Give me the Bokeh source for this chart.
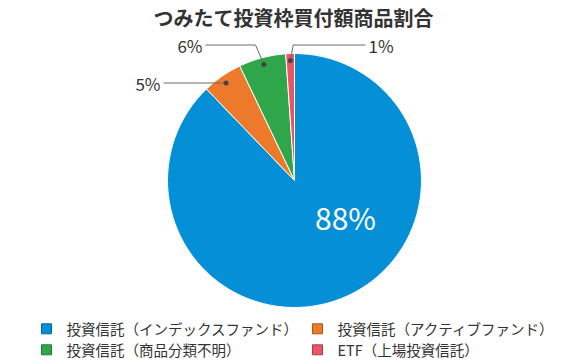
import math
from bokeh.plotting import figure
from bokeh.models import Range1d
from bokeh.core.properties import value
from bokeh.embed import file_html
from bokeh.resources import INLINE

# ---- data ----
title = "つみたて投資枠買付額商品割合"
categories = ["投資信託（インデックスファンド）", "投資信託（アクティブファンド）",
              "投資信託（商品分類不明）", "ETF（上場投資信託）"]
shares = [87.8, 5.1, 6.0, 1.1]
colors = ["#058fd6", "#ec7a2a", "#2fa64a", "#e9546b"]

# ---- layout (screen pixels of the 588x364 window) ----
W, H = 588, 364
FONT = "Noto Sans CJK JP"

def sx(x):
    return x

def sy(y):
    return H - y

cx, cy, R = 294, 180, 127

p = figure(width=W, height=H, output_backend="svg", toolbar_location=None,
           x_range=Range1d(0, W), y_range=Range1d(0, H), min_border=0)
p.axis.visible = False
p.grid.visible = False
p.outline_line_color = None
p.background_fill_color = "white"

# wedges (clockwise from 12 o'clock)
total = sum(shares)
starts, ends, mids = [], [], []
acc = 0.0
for v in shares:
    a0 = math.pi / 2 - 2 * math.pi * acc / total
    acc += v
    a1 = math.pi / 2 - 2 * math.pi * acc / total
    starts.append(a0)
    ends.append(a1)
    mids.append((a0 + a1) / 2)

p.wedge(x=[sx(cx)] * 4, y=[sy(cy)] * 4, radius=R, start_angle=starts, end_angle=ends,
        direction="clock", fill_color=colors, line_color="white", line_width=1)

labels = [f"{round(v / total * 100)}%" for v in shares]

# inside label for largest slice
p.text(x=[sx(345)], y=[sy(216)], text=[labels[0]], text_color="white",
       text_font=value(FONT), text_font_size="30px", text_align="center",
       text_baseline="middle")

# outside labels: (label y, elbow x or None, line end x, side)
outside = {
    1: dict(ly=82.5, elbow=None, end=163, side="left"),
    2: dict(ly=44.5, elbow=255, end=205, side="left"),
    3: dict(ly=44.5, elbow=292.7, end=365, side="right"),
}
r_dot = 120
for i, cfg in outside.items():
    dx = cx + r_dot * math.cos(mids[i])
    dy = cy - r_dot * math.sin(mids[i])
    if cfg["elbow"] is None:
        xs = [dx, cfg["end"]]
        ys = [cfg["ly"], cfg["ly"]]
        dy = cfg["ly"]
    else:
        xs = [dx, cfg["elbow"], cfg["end"]]
        ys = [dy, cfg["ly"], cfg["ly"]]
    p.line(x=[sx(v) for v in xs], y=[sy(v) for v in ys], line_color="#6b6b6b", line_width=1)
    p.scatter(x=[sx(dx)], y=[sy(dy)], size=5, fill_color="#444444", line_color=None)
    if cfg["side"] == "left":
        tx, al = cfg["end"] - 3, "right"
    else:
        tx, al = cfg["end"] + 3, "left"
    p.text(x=[sx(tx)], y=[sy(cfg["ly"])], text=[labels[i]], text_color="#333333",
           text_font=value(FONT), text_font_size="17px", text_align=al,
           text_baseline="middle")

# title
p.text(x=[sx(293)], y=[sy(17)], text=[title], text_color="#333333",
       text_font=value(FONT), text_font_size="20px", text_font_style="bold",
       text_align="center", text_baseline="middle")

# legend
leg_x = [46, 317, 46, 317]
leg_y = [328.3, 328.3, 349.3, 349.3]
border = ["#04679c", "#a9561d", "#217a36", "#a83c4d"]
p.rect(x=[sx(v) for v in leg_x], y=[sy(v) for v in leg_y], width=10, height=10,
       fill_color=colors, line_color=border, line_width=1)
p.text(x=[sx(v + 20) for v in leg_x], y=[sy(v) for v in leg_y], text=categories,
       text_color="#333333", text_font=value(FONT), text_font_size="14.5px",
       text_align="left", text_baseline="middle")

open("out.html", "w").write(file_html(p, INLINE))
